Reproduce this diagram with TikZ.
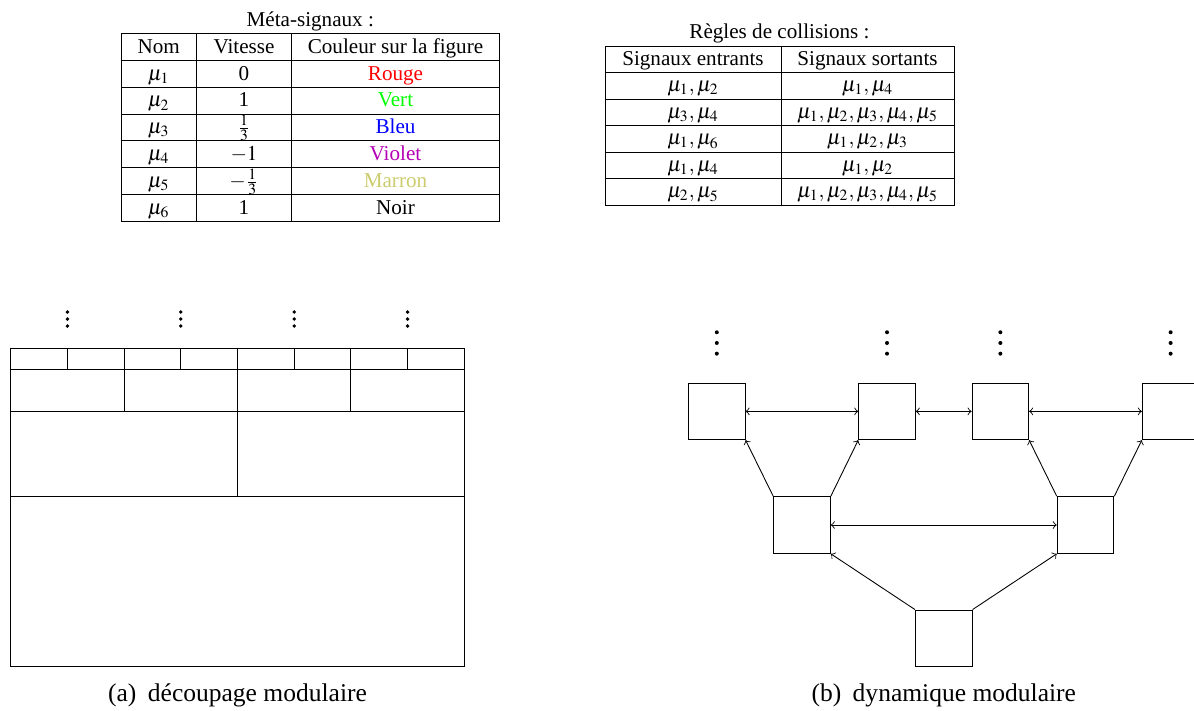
\documentclass[tikz,border=0pt]{standalone}
\usepackage{mathptmx}
\usepackage{fontspec}
\setmainfont{Liberation Serif}
\usepackage{tikz}
\usetikzlibrary{positioning}
\definecolor{violetsig}{RGB}{180,0,180}
\definecolor{marronsig}{RGB}{204,204,110}
\tikzset{
  cell/.style={anchor=base, inner sep=0pt, font=\fontsize{9.6}{11}\selectfont},
  ttl/.style={anchor=base, inner sep=0pt, font=\fontsize{9.6}{11}\selectfont},
  legende/.style={anchor=base, inner sep=0pt, font=\fontsize{11.6}{13}\selectfont},
  module/.style={rectangle, draw=black, minimum size=25.77pt, inner sep=0pt},
  arr/.style={->},
  darr/.style={<->},
}

\begin{document}
\begin{tikzpicture}[x=0.4545pt, y=-0.4545pt]
  \useasboundingbox (0,0) rectangle (1194,710);
  % meta-signaux table
  \node[ttl] (titremeta) at (310.25,26.5) {Méta-signaux :};
  \draw (121,33.5) rectangle (499.5,221.5);
  \foreach \y in {60.35,87.2,114.05,140.9,167.75,194.6}
    \draw (121,\y) -- (499.5,\y);
  \foreach \x in {196.5,291.5}
    \draw (\x,33.5) -- (\x,221.5);
  \node[cell] (hnom) at (158.75,53.2) {Nom};
  \node[cell] (hvit) at (244,53.2) {Vitesse};
  \node[cell] (hcoul) at (395.5,53.2) {Couleur sur la figure};
  \foreach \i/\v/\c/\col in {1/0/Rouge/red, 2/1/Vert/green, 3/{$\frac{1}{3}$}/Bleu/blue,
                             4/{$-1$}/Violet/violetsig, 5/{$-\frac{1}{3}$}/Marron/marronsig,
                             6/1/Noir/black}{
    \pgfmathsetmacro\yb{33.5+26.85*(\i+1)-7.2}
    \node[cell] (nom\i) at (158.75,\yb) {$\mu_{\i}$};
    \node[cell] (vit\i) at (244,\yb) {\v};
    \node[cell,text=\col] (coul\i) at (395.5,\yb) {\c};
  }

  % collision rules table
  \node[ttl] (titrecoll) at (779.5,38.5) {Règles de collisions :};
  \draw (605,46) rectangle (954,205);
  \foreach \y in {72.5,99,125.5,152,178.5}
    \draw (605,\y) -- (954,\y);
  \draw (781,46) -- (781,205);
  \node[cell] (hentr) at (693,65.3) {Signaux entrants};
  \node[cell] (hsort) at (867.5,65.3) {Signaux sortants};
  \foreach \i/\e/\s in {1/{$\mu_1,\mu_2$}/{$\mu_1,\mu_4$},
                        2/{$\mu_3,\mu_4$}/{$\mu_1,\mu_2,\mu_3,\mu_4,\mu_5$},
                        3/{$\mu_1,\mu_6$}/{$\mu_1,\mu_2,\mu_3$},
                        4/{$\mu_1,\mu_4$}/{$\mu_1,\mu_2$},
                        5/{$\mu_2,\mu_5$}/{$\mu_1,\mu_2,\mu_3,\mu_4,\mu_5$}}{
    \pgfmathsetmacro\yb{46+26.5*(\i+1)-7.2}
    \node[cell] (entr\i) at (693,\yb) {\e};
    \node[cell] (sort\i) at (867.5,\yb) {\s};
  }

  % (a) decoupage modulaire
  \draw (10.7,348) rectangle (464.3,666.8);
  \foreach \y in {369.3,411.8,496.8}
    \draw (10.7,\y) -- (464.3,\y);
  \foreach \i in {1,...,7}
    \draw ({10.7+56.7*\i},348) -- ({10.7+56.7*\i},369.3);
  \foreach \i in {2,4,6}
    \draw ({10.7+56.7*\i},369.3) -- ({10.7+56.7*\i},411.8);
  \draw (237.5,411.8) -- (237.5,496.8);
  % vertical dots
  \foreach \i in {1,3,5,7}
    \foreach \d in {0,1,2}
      \fill ({10.7+56.7*\i},{312+7*\d}) circle (1.9);
  \node[legende] (lega) at (237.5,701) {(a)\hspace{0.45em}découpage modulaire};

  % (b) dynamique modulaire
  \node[module] (m1) at (716.8,411.35) {};
  \node[module] (m2) at (887,411.35) {};
  \node[module] (m3) at (1000.35,411.35) {};
  \node[module] (m4) at (1170.6,411.35) {};
  \node[module] (m5) at (802,525) {};
  \node[module] (m6) at (1085.5,525) {};
  \node[module] (m7) at (943.75,638.35) {};
  \foreach \n in {1,...,4}
    \foreach \d in {0,1,2}
      \fill (m\n.north) ++(0,{-50.3+10.7*\d}) circle (2);
  \draw[darr] (m1) -- (m2);
  \draw[darr] (m2) -- (m3);
  \draw[darr] (m3) -- (m4);
  \draw[darr] (m5) -- (m6);
  \draw[arr] (m5.north west) -- (m1.south east);
  \draw[arr] (m5.north east) -- (m2.south west);
  \draw[arr] (m6.north west) -- (m3.south east);
  \draw[arr] (m6.north east) -- (m4.south west);
  \draw[arr] (m7.north west) -- (m5.south east);
  \draw[arr] (m7.north east) -- (m6.south west);
  \node[legende] (legb) at (943.75,701) {(b)\hspace{0.45em}dynamique modulaire};
\end{tikzpicture}
\end{document}
